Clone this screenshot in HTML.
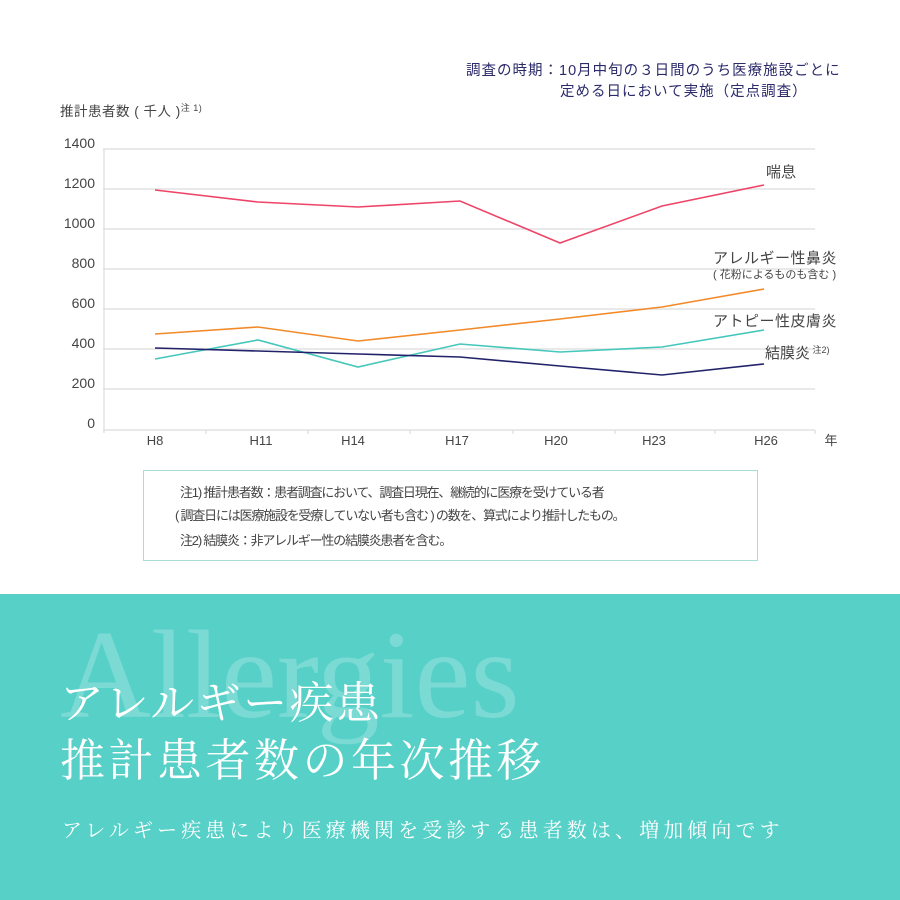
<!DOCTYPE html>
<html><head><meta charset="utf-8"><style>
html,body{margin:0;padding:0;width:900px;height:900px;overflow:hidden;background:#fff;}
svg text{font-family:"Liberation Sans","Noto Sans CJK JP",sans-serif;}
.ser{font-family:"Liberation Serif","Noto Serif CJK SC",serif !important;}
</style></head><body>
<svg width="900" height="900" viewBox="0 0 900 900" xmlns="http://www.w3.org/2000/svg">
<rect width="900" height="900" fill="#fff"/>
<g fill="#2b2a6b" font-size="14.5" letter-spacing="1">
<text x="466" y="75">調査の時期：10月中旬の３日間のうち医療施設ごとに</text>
<text x="560" y="96">定める日において実施（定点調査）</text>
</g>
<text x="60" y="116" font-size="13.5" fill="#444" letter-spacing="0.5">推計患者数 ( 千人 )<tspan font-size="9" dy="-5">注 1)</tspan></text>
<g stroke="#dcdcdc" stroke-width="1.2">
<line x1="103" y1="149" x2="815" y2="149"/>
<line x1="103" y1="189" x2="815" y2="189"/>
<line x1="103" y1="229" x2="815" y2="229"/>
<line x1="103" y1="269" x2="815" y2="269"/>
<line x1="103" y1="309" x2="815" y2="309"/>
<line x1="103" y1="349" x2="815" y2="349"/>
<line x1="103" y1="389" x2="815" y2="389"/>
<line x1="103" y1="430" x2="815" y2="430"/>
<line x1="104" y1="149" x2="104" y2="433"/>
<line x1="206" y1="430" x2="206" y2="434"/>
<line x1="308" y1="430" x2="308" y2="434"/>
<line x1="410" y1="430" x2="410" y2="434"/>
<line x1="513" y1="430" x2="513" y2="434"/>
<line x1="615" y1="430" x2="615" y2="434"/>
<line x1="715" y1="430" x2="715" y2="434"/>
<line x1="815" y1="430" x2="815" y2="434"/>
</g>
<g font-size="14" fill="#444" text-anchor="end">
<text x="95" y="148">1400</text><text x="95" y="188">1200</text><text x="95" y="228">1000</text>
<text x="95" y="268">800</text><text x="95" y="308">600</text><text x="95" y="348">400</text>
<text x="95" y="388">200</text><text x="95" y="428">0</text>
</g>
<g font-size="13" fill="#444" text-anchor="middle">
<text x="155" y="445">H8</text><text x="261" y="445">H11</text><text x="353" y="445">H14</text>
<text x="457" y="445">H17</text><text x="556" y="445">H20</text><text x="654" y="445">H23</text><text x="766" y="445">H26</text>
<text x="831" y="445">年</text>
</g>
<g fill="none" stroke-width="1.6">
<polyline stroke="#ee4468" points="155,190 258,202 358,207 460,201 560,243 662,206 764,185"/>
<polyline stroke="#f28a2a" points="155,334 258,327 358,341 460,330 560,319 662,307 764,289"/>
<polyline stroke="#45c7bb" points="155,359 258,340 358,367 460,344 560,352 662,347 764,330"/>
<polyline stroke="#22226a" points="155,348 258,351 358,354 460,357 560,366 662,375 764,364"/>
</g>
<g fill="#444">
<text x="766" y="177" font-size="15">喘息</text>
<text x="713" y="263" font-size="15" letter-spacing="0.5">アレルギー性鼻炎</text>
<text x="713" y="278" font-size="11">( 花粉によるものも含む )</text>
<text x="713" y="326" font-size="15" letter-spacing="0.5">アトピー性皮膚炎</text>
<text x="765" y="358" font-size="15">結膜炎<tspan font-size="9" dy="-5"> 注2)</tspan></text>
</g>
<rect x="143.5" y="470.5" width="614" height="90" fill="none" stroke="#a9ddd7" stroke-width="1"/>
<g fill="#444" font-size="13" letter-spacing="-1.2">
<text x="180" y="497">注1) 推計患者数：患者調査において、調査日現在、継続的に医療を受けている者</text>
<text x="175" y="520">( 調査日には医療施設を受療していない者も含む ) の数を、算式により推計したもの。</text>
<text x="180" y="545">注2) 結膜炎：非アレルギー性の結膜炎患者を含む。</text>
</g>
<rect x="0" y="594" width="900" height="306" fill="#57d0c8"/>
<text class="ser" x="60" y="717" font-size="126" fill="#ffffff" fill-opacity="0.22">Allergies</text>
<g fill="#fff">
<text class="ser" x="60" y="718" font-size="44" letter-spacing="2.5">アレルギー疾患</text>
<text class="ser" x="60" y="776" font-size="45" letter-spacing="3.5">推計患者数の年次推移</text>
<text class="ser" x="62" y="837" font-size="20" letter-spacing="4.1">アレルギー疾患により医療機関を受診する患者数は、増加傾向です</text>
</g>
</svg>
</body></html>
